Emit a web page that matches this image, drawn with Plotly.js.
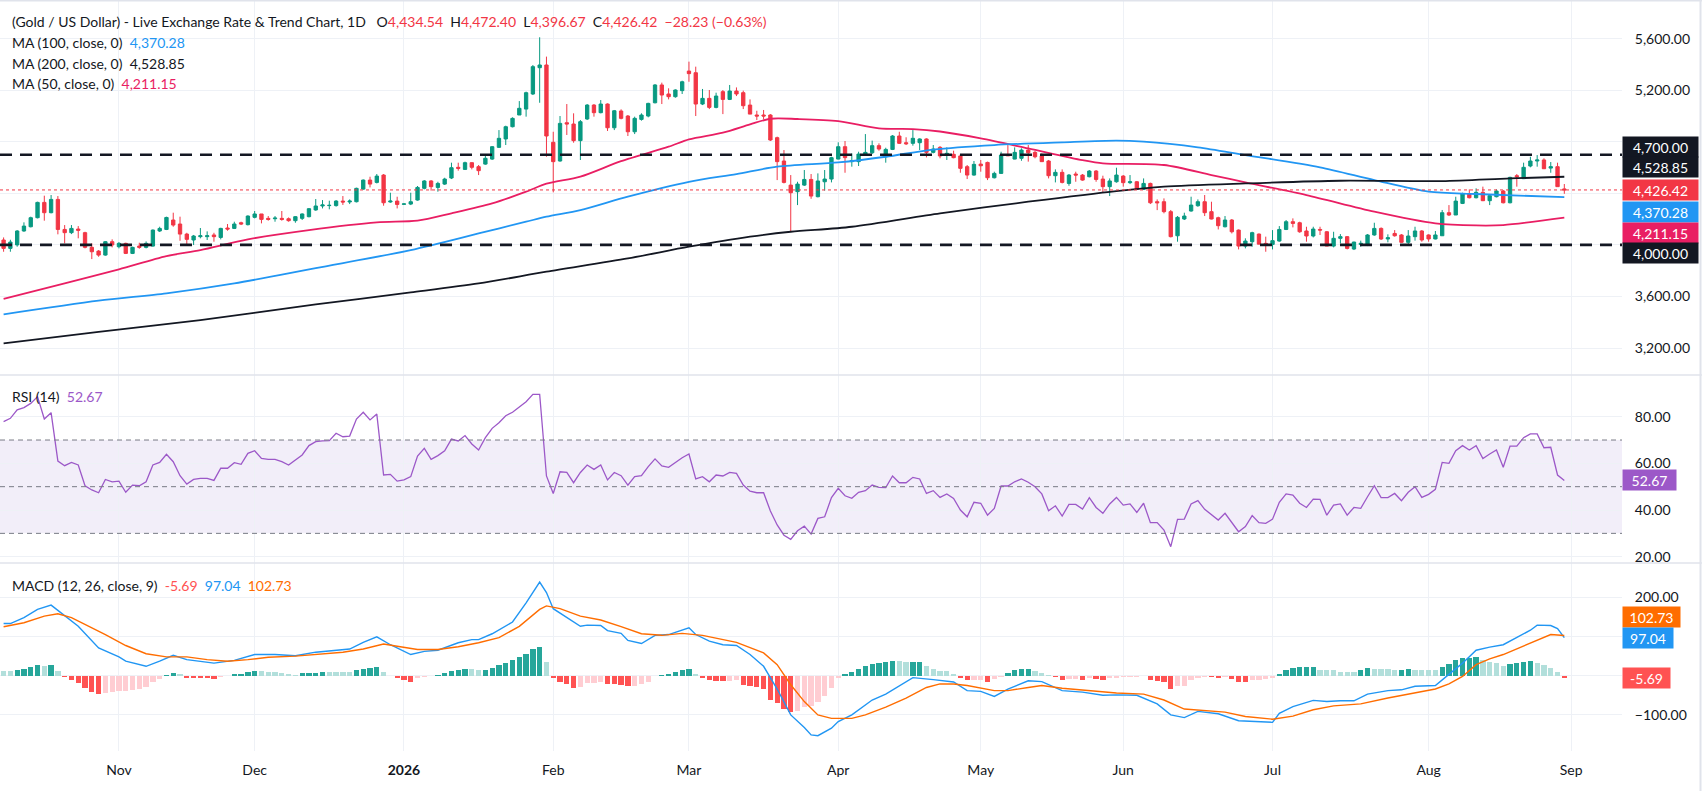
<!DOCTYPE html>
<html><head><meta charset="utf-8">
<script src="https://cdn.plot.ly/plotly-3.0.1.min.js"></script>
<style>html,body{margin:0;padding:0;background:#fff;}#chart{width:1702px;height:791px;}</style>
</head><body><div id="chart"></div>
<script>
// ---- Candles (daily bars, Oct 9 2025 .. Aug 31 2026), bar index 0..230 ----
const opens = [4038,3973,4000,4108,4141,4211,4330,4250,4353,4120,
4095,4123,4095,3981,3952,3921,4025,3986,4012,3934,
3991,3981,3991,4108,4120,4193,4162,4084,4038,4064,
4064,4077,4058,4131,4128,4172,4157,4214,4240,4206,
4203,4206,4203,4188,4206,4219,4271,4302,4305,4305,
4340,4333,4335,4433,4503,4485,4542,4333,4340,4315,
4317,4348,4439,4496,4446,4472,4519,4602,4586,4638,
4607,4627,4666,4757,4822,4917,5008,5054,5171,5375,
5396,4796,4651,4948,4938,4809,4977,5085,5026,5093,
4909,5039,5000,4878,4974,5000,5103,5241,5171,5150,
5197,5349,5336,5093,5137,5067,5189,5129,5194,5181,
5085,5008,5008,5008,4832,4651,4464,4413,4464,4508,
4374,4490,4511,4666,4762,4646,4646,4705,4715,4770,
4684,4741,4845,4793,4788,4793,4822,4718,4757,4705,
4703,4690,4607,4542,4627,4640,4521,4555,4700,4666,
4672,4736,4718,4690,4651,4537,4563,4477,4550,4542,
4529,4573,4511,4452,4490,4534,4483,4490,4431,4477,
4335,4335,4258,4071,4201,4263,4304,4335,4258,4211,
4141,4193,4115,3991,4025,4084,4012,4004,4030,4120,
4180,4172,4108,4069,4120,4102,3991,4051,4064,3968,
4004,4000,4077,4128,4046,4089,4077,4020,4064,4108,
4077,4046,4071,4250,4232,4322,4395,4366,4408,4343,
4374,4418,4327,4537,4514,4612,4651,4659,4596,4607,
4434.54];
const highs = [4058,4040,4115,4175,4219,4335,4382,4387,4379,4154,
4154,4146,4102,4012,3960,4030,4043,4022,4017,3986,
4017,4027,4120,4141,4219,4250,4219,4094,4077,4131,
4105,4094,4133,4162,4180,4180,4229,4263,4240,4224,
4224,4263,4213,4224,4245,4286,4356,4348,4343,4348,
4379,4353,4444,4508,4529,4550,4550,4405,4374,4322,
4405,4457,4503,4503,4490,4521,4638,4638,4646,4640,
4620,4690,4767,4891,4925,4990,5116,5189,5396,5611,
5461,4878,5000,5093,5021,4969,5093,5093,5124,5098,
5047,5052,5008,4995,5021,5103,5248,5259,5215,5207,
5274,5422,5383,5210,5202,5181,5202,5241,5222,5197,
5129,5041,5047,5015,4840,4736,4542,4490,4581,4550,
4555,4581,4684,4796,4806,4710,4723,4860,4809,4788,
4754,4852,4878,4835,4891,4827,4827,4775,4767,4757,
4731,4705,4620,4651,4659,4646,4568,4723,4775,4757,
4749,4775,4731,4710,4659,4586,4586,4550,4568,4550,
4581,4581,4537,4516,4599,4542,4542,4496,4516,4483,
4353,4361,4271,4224,4250,4374,4353,4387,4335,4219,
4224,4201,4120,4051,4102,4089,4064,4115,4146,4193,
4206,4180,4141,4141,4141,4108,4102,4084,4069,4025,
4033,4084,4172,4136,4082,4115,4084,4115,4141,4115,
4082,4108,4271,4309,4374,4405,4431,4439,4452,4387,
4431,4426,4529,4550,4638,4684,4697,4672,4643,4638,
4472.40];
const lows = [3947,3947,3986,4102,4136,4206,4188,4245,4082,4012,
4084,4051,3973,3890,3908,3916,3981,3973,3929,3929,
3970,3973,3986,4100,4115,4141,4032,4007,3999,4051,
4038,4025,4043,4110,4123,4154,4151,4206,4167,4188,
4180,4188,4180,4172,4193,4214,4265,4283,4276,4297,
4310,4317,4330,4428,4446,4477,4304,4327,4283,4312,
4309,4343,4431,4421,4413,4465,4511,4576,4581,4586,
4542,4622,4659,4752,4775,4912,5008,4995,5163,5103,
4684,4408,4646,4853,4793,4659,4969,4995,5021,4884,
4891,4974,4845,4860,4964,4990,5098,5093,5129,5142,
5171,5266,5000,5085,5054,5060,5015,5124,5155,5054,
5015,4969,4974,4806,4503,4477,4102,4309,4457,4358,
4369,4421,4485,4664,4560,4607,4612,4700,4705,4731,
4638,4736,4783,4775,4770,4736,4679,4710,4672,4659,
4672,4560,4511,4537,4568,4503,4516,4550,4690,4664,
4653,4646,4672,4646,4516,4485,4477,4459,4490,4498,
4524,4490,4405,4379,4483,4452,4472,4426,4426,4317,
4270,4245,4058,4025,4193,4258,4296,4224,4198,4120,
4136,4089,3965,3973,3986,4006,3947,3965,4025,4115,
4136,4094,4025,4058,4077,3991,3981,4012,3965,3960,
3986,3991,4071,4038,4020,4064,4017,4000,4033,4025,
4025,4043,4069,4224,4232,4317,4361,4361,4340,4309,
4369,4322,4322,4452,4511,4602,4607,4589,4560,4452,
4396.67];
const closes = [3973,4022,4108,4146,4211,4330,4250,4353,4120,4095,
4128,4113,3981,3947,3921,4025,4000,4012,3934,3981,
3981,4012,4115,4128,4213,4154,4084,4043,4069,4071,
4071,4064,4128,4123,4162,4162,4224,4240,4198,4198,
4208,4198,4188,4219,4240,4281,4302,4310,4307,4340,
4333,4340,4439,4503,4472,4534,4327,4340,4314,4318,
4335,4446,4496,4452,4477,4511,4599,4594,4638,4602,
4576,4672,4762,4827,4917,4982,5060,5181,5383,5396,
4845,4646,4943,4938,4809,4956,5085,5026,5093,4909,
5041,4982,4878,4982,5008,5098,5241,5163,5150,5202,
5266,5329,5093,5137,5067,5155,5129,5194,5171,5080,
5015,5000,5000,4814,4646,4485,4405,4472,4508,4379,
4496,4511,4677,4762,4677,4654,4705,4718,4770,4744,
4741,4845,4788,4785,4827,4822,4718,4744,4690,4710,
4677,4594,4542,4625,4614,4521,4555,4697,4692,4718,
4736,4715,4684,4646,4537,4563,4485,4542,4542,4503,
4573,4508,4452,4496,4542,4483,4490,4431,4477,4327,
4327,4258,4064,4214,4224,4309,4335,4250,4201,4149,
4193,4102,3991,4030,4095,4006,4004,4033,4120,4180,
4167,4102,4069,4123,4115,3991,4051,4064,3973,4022,
4012,4077,4128,4046,4056,4071,4020,4069,4108,4038,
4046,4077,4250,4232,4340,4395,4366,4408,4343,4382,
4418,4327,4524,4529,4602,4651,4659,4591,4607,4452,
4426.42];
const dayChange = -28.23, dayChangePct = -0.63;

// ---- Moving averages (read at sample bars) ----
const ma50Idx = [0,9,17,24,29,36,45,55,61,66,72,77,80,85,91,98,101,106,110,113,117,123,129,134,138,144,151,159,162,171,178,183,192,202,211,217,221,230];
const ma50Val = [3582,3701,3810,3913,3960,4043,4115,4175,4188,4245,4322,4413,4475,4530,4650,4762,4819,4871,4935,4979,4977,4961,4904,4899,4880,4827,4749,4658,4633,4620,4542,4485,4387,4258,4167,4151,4154,4211.15];
const ma100Idx = [0,14,24,34,46,60,70,77,80,85,92,101,108,114,123,130,137,146,156,164,168,176,183,194,202,210,217,230];
const ma100Val = [3461,3567,3624,3701,3820,3960,4089,4180,4219,4270,4375,4490,4550,4607,4640,4684,4740,4775,4796,4809,4801,4757,4697,4602,4503,4413,4395,4370.28];
const ma200Idx = [0,14,29,46,60,70,80,92,101,110,116,125,138,151,164,171,183,197,212,222,230];
const ma200Val = [3236,3326,3417,3538,3631,3701,3792,3895,3986,4064,4102,4141,4245,4335,4418,4452,4477,4498,4495,4516,4528.85];

// ---- RSI(14), one value per bar ----
const rsi = [77.9,79.3,82.9,83.9,85.7,88.6,79.0,81.7,61.0,59.0,
60.4,59.3,50.4,48.6,47.4,53.1,52.1,52.4,47.6,50.7,
50.4,52.1,59.3,60.4,63.9,60.7,54.7,51.1,53.1,53.6,
53.6,52.7,57.9,57.9,60.3,59.6,64.3,65.4,62.1,61.7,
61.7,60.7,59.3,61.4,63.6,67.6,69.3,69.6,69.7,72.9,
71.4,71.7,79.0,81.9,78.6,81.1,55.0,55.3,52.4,52.9,
54.3,63.1,66.4,61.7,63.3,65.4,70.4,69.6,71.9,68.3,
65.7,71.0,75.0,77.4,80.4,81.9,84.0,86.4,89.6,89.6,
54.6,47.1,56.4,56.1,51.7,56.1,59.3,57.4,59.3,52.9,
56.1,54.7,50.7,54.3,54.7,58.6,61.9,58.9,58.3,60.4,
62.4,64.0,53.3,54.3,52.1,55.0,54.6,56.1,55.7,50.7,
48.1,47.4,47.4,39.6,33.6,29.2,27.4,31.1,33.1,29.7,
36.4,37.1,45.3,49.3,46.1,45.0,47.6,48.3,50.7,49.7,
49.6,54.6,51.7,51.7,54.0,53.3,47.1,48.3,45.4,46.9,
45.0,40.0,37.1,43.3,42.9,37.8,40.7,50.3,50.3,52.1,
53.3,51.9,50.0,46.9,39.7,41.8,37.4,42.4,42.4,40.4,
45.3,41.1,38.6,42.6,45.4,42.1,42.6,39.0,42.9,34.6,
34.6,31.4,24.3,36.0,36.1,42.6,44.0,40.3,38.1,35.7,
38.6,34.7,30.7,32.9,37.6,34.6,34.3,36.1,43.3,46.9,
46.4,42.9,41.1,44.7,44.6,37.8,42.1,42.6,37.8,41.1,
40.7,45.7,50.4,45.3,45.3,47.1,44.0,47.6,50.0,45.4,
46.7,48.9,60.4,60.0,65.4,67.6,65.7,67.6,62.1,64.0,
65.7,58.3,67.4,67.4,71.0,72.6,72.6,66.7,66.9,55.0,
52.67];

// ---- MACD (12, 26, close, 9) ----
const macdIdx = [0,1,3,5,7,9,11,14,17,18,21,23,25,27,31,34,37,40,43,46,50,51,53,55,57,60,62,64,67,69,70,72,75,77,79,80,81,83,85,86,88,89,91,92,94,96,98,101,102,104,106,108,110,112,114,116,118,119,120,122,123,125,128,130,132,134,137,140,142,144,146,148,151,153,156,159,162,164,167,170,172,174,176,179,182,184,187,188,190,193,195,197,199,201,204,206,208,211,213,215,217,219,221,223,225,226,228,229,230];
const macdVal = [133,133,148,169,180,152,126,71,48,37,24,37,52,41,32,39,54,54,51,60,67,68,85,99,79,54,62,65,84,92,92,107,137,186,239,212,171,148,126,129,128,115,108,90,82,103,105,122,105,88,79,77,54,24,-34,-100,-132,-151,-153,-134,-117,-100,-62,-47,-26,-5,-10,-16,-38,-40,-53,-34,-13,-15,-38,-42,-50,-49,-50,-72,-100,-107,-91,-97,-115,-117,-119,-96,-79,-63,-66,-64,-64,-47,-38,-36,-27,-25,3,32,65,73,79,97,116,129,128,120,97.04];
const signalIdx = [0,3,6,8,10,12,15,18,21,24,27,30,33,36,39,43,46,50,53,56,58,61,64,67,70,73,76,78,79,80,82,85,88,91,94,97,100,103,106,108,112,114,116,118,120,122,125,127,130,133,136,138,140,142,146,148,151,153,156,160,164,168,171,174,177,180,183,187,190,193,196,200,204,208,211,213,215,217,219,221,223,226,228,230];
const signalVal = [125,135,152,158,148,131,105,77,56,48,48,41,37,41,47,50,54,60,68,81,75,67,67,74,84,97,126,156,169,178,171,152,142,125,107,103,108,103,92,85,58,28,-23,-66,-100,-109,-109,-100,-80,-57,-30,-21,-21,-25,-38,-38,-30,-25,-32,-38,-44,-47,-62,-85,-89,-93,-104,-111,-103,-87,-77,-72,-57,-44,-34,-21,-2,28,43,54,68,91,105,102.73];
const hist = [11,11,14,17,21,28,26,28,13,-3,
-10,-19,-32,-42,-46,-43,-41,-39,-38,-36,
-34,-29,-17,-9,3,7,4,-6,-6,-6,
-6,-8,-3,-2,4,5,9,13,11,9,
9,7,4,3,6,7,8,9,9,9,
9,9,15,18,20,21,9,-2,-6,-10,
-15,-6,-3,-2,3,7,13,15,17,17,
14,15,20,28,32,41,47,56,68,74,
35,-6,-15,-21,-32,-29,-19,-18,-17,-21,
-21,-23,-27,-26,-21,-15,-2,3,5,9,
14,17,4,-6,-12,-13,-14,-13,-12,-23,
-27,-30,-34,-62,-70,-85,-92,-90,-80,-78,
-66,-51,-32,-6,4,9,17,26,31,32,
34,37,37,34,35,36,24,18,11,11,
4,-6,-12,-11,-10,-16,-8,-3,7,14,
16,17,13,7,3,-3,-10,-9,-8,-10,
-6,-9,-10,-6,-5,-4,-3.5,-3,-2,-10,
-13,-17,-34,-27,-26,-10,-6,-3,-4,-6,
-3,-9,-16,-16,-12,-10,-8,-6,4,14,
20,21,22,23,14,14,14,9,9,9,
14,20,17,17,17,14,15,17,14,14,
14,14,22,30,41,44,45,47,41,35,
32,24,31,32,35,37,32,28,20,9,
-5.69];

// ---- Axis labels / levels ----
const monthTickIdx = [17,37,59,81,101,123,144,165,187,210,231];
const monthTickText = ['Nov','Dec','<b>2026</b>','Feb','Mar','Apr','May','Jun','Jul','Aug','Sep'];
const priceTicks = [3200,3600,4000,4400,4800,5200,5600];
const priceTicksCovered = [4000,4400,4800];
const rsiTicks = [20,40,60,80];
const macdTicks = [-100,0,100,200];
const macdTicksCovered = [0,100];
const levels = [4700, 4000];
const rsiBands = [70, 50, 30];

// ---------------------------------------------------------------
const C_UP='#089981', C_DN='#f23645', C_MA50='#e91e63', C_MA100='#2196f3', C_MA200='#131722';
const C_RSI='#9c58c8', C_MACD='#2196f3', C_SIG='#ff6d00', TXT='#131722', GRID='#eef1f6';
const FONT='Lato, "Noto Sans", sans-serif';
const idx = closes.map((_, i) => i);
const last = closes.length - 1;
const fmt = v => v.toLocaleString('en-US', {minimumFractionDigits: 2, maximumFractionDigits: 2});
const histColors = hist.map((h, i) => {
  const p = i > 0 ? hist[i-1] : h;
  if (h >= 0) return p < h ? '#26a69a' : '#b2dfdb';
  return p < h ? '#ffcdd2' : '#ff5252';
});

const traces = [
  {type:'candlestick', x:idx, open:opens, high:highs, low:lows, close:closes,
   increasing:{line:{color:C_UP, width:1}, fillcolor:C_UP},
   decreasing:{line:{color:C_DN, width:1}, fillcolor:C_DN},
   whiskerwidth:0, hoverinfo:'skip', xaxis:'x', yaxis:'y'},
  {type:'scatter', mode:'lines', x:ma50Idx, y:ma50Val, line:{color:C_MA50, width:1.8, shape:'spline', smoothing:0.8}, hoverinfo:'skip', xaxis:'x', yaxis:'y'},
  {type:'scatter', mode:'lines', x:ma100Idx, y:ma100Val, line:{color:C_MA100, width:1.8, shape:'spline', smoothing:0.8}, hoverinfo:'skip', xaxis:'x', yaxis:'y'},
  {type:'scatter', mode:'lines', x:ma200Idx, y:ma200Val, line:{color:C_MA200, width:1.8, shape:'spline', smoothing:0.8}, hoverinfo:'skip', xaxis:'x', yaxis:'y'},
  {type:'scatter', mode:'lines', x:idx, y:rsi, line:{color:C_RSI, width:1.3}, hoverinfo:'skip', xaxis:'x', yaxis:'y2'},
  {type:'bar', x:idx, y:hist, marker:{color:histColors, line:{width:0}}, width:0.78, hoverinfo:'skip', xaxis:'x', yaxis:'y3'},
  {type:'scatter', mode:'lines', x:macdIdx, y:macdVal, line:{color:C_MACD, width:1.4}, hoverinfo:'skip', xaxis:'x', yaxis:'y3'},
  {type:'scatter', mode:'lines', x:signalIdx, y:signalVal, line:{color:C_SIG, width:1.4}, hoverinfo:'skip', xaxis:'x', yaxis:'y3'}
];

const shapes = [];
levels.forEach(v => shapes.push({type:'line', xref:'paper', x0:0, x1:1, yref:'y', y0:v, y1:v, line:{color:'#131722', width:2.6, dash:'12px,8px'}}));
shapes.push({type:'line', xref:'paper', x0:0, x1:1, yref:'y', y0:closes[last], y1:closes[last], line:{color:C_DN, width:1, dash:'dot'}});
shapes.push({type:'rect', xref:'paper', x0:0, x1:1, yref:'y2', y0:rsiBands[2], y1:rsiBands[0], fillcolor:'rgba(126,87,194,0.1)', line:{width:0}, layer:'below'});
rsiBands.forEach(v => shapes.push({type:'line', xref:'paper', x0:0, x1:1, yref:'y2', y0:v, y1:v, line:{color:'#787b86', width:1, dash:'5px,4px'}}));
[0.50067, 0.25033].forEach(p => shapes.push({type:'line', xref:'paper', x0:0, x1:1.0493, yref:'paper', y0:p, y1:p, line:{color:'#e0e3eb', width:1.5}}));
// outer frame (top and right edges)
shapes.push({type:'line', xref:'paper', x0:0, x1:1.0493, yref:'paper', y0:0.9995, y1:0.9995, line:{color:'#e0e3eb', width:2}});
shapes.push({type:'line', xref:'paper', x0:1.0484, x1:1.0484, yref:'paper', y0:-0.0533, y1:1, line:{color:'#e0e3eb', width:2}});

function box(yref, val, text, bg, w, shift) {
  return {xref:'paper', x:1, xanchor:'left', yref:yref, y:val, yanchor:'middle', yshift:shift,
    text:text, showarrow:false, bgcolor:bg, font:{family:FONT, size:14, color:'#ffffff'},
    width:w, height:16, borderpad:2, align:'center'};
}
const red = s => '<span style="color:' + C_DN + '">' + s + '</span>';
const nb = '\u00a0';
const titleText = '(Gold / US Dollar) - Live Exchange Rate &amp; Trend Chart, 1D' + nb + nb + nb +
  'O' + red(fmt(opens[last])) + nb + nb + 'H' + red(fmt(highs[last])) + nb + nb + 'L' + red(fmt(lows[last])) + nb + nb +
  'C' + red(fmt(closes[last])) + nb + nb + red('\u2212' + fmt(Math.abs(dayChange)) + ' (\u2212' + fmt(Math.abs(dayChangePct)) + '%)');
function legendLine(py, html) {
  return {xref:'paper', x:0, xanchor:'left', xshift:10, yref:'paper', y:1 - py/751, yanchor:'middle',
    text:html, showarrow:false, font:{family:FONT, size:14, color:TXT}, align:'left'};
}
const col = (c, s) => '<span style="color:' + c + '">' + s + '</span>';
const annotations = [
  legendLine(21.5, titleText),
  legendLine(42.5, 'MA (100, close, 0)' + nb + nb + col(C_MA100, fmt(ma100Val[ma100Val.length-1]))),
  legendLine(63, 'MA (200, close, 0)' + nb + nb + col(C_MA200, fmt(ma200Val[ma200Val.length-1]))),
  legendLine(83.5, 'MA (50, close, 0)' + nb + nb + col(C_MA50, fmt(ma50Val[ma50Val.length-1]))),
  legendLine(396.5, 'RSI (14)' + nb + nb + col(C_RSI, fmt(rsi[last]))),
  legendLine(585, 'MACD (12, 26, close, 9)' + nb + nb + col('#ff5252', fmt(hist[last])) + nb + nb + col(C_MACD, fmt(macdVal[macdVal.length-1])) + nb + nb + col(C_SIG, fmt(signalVal[signalVal.length-1]))),
  box('y', levels[0], fmt(levels[0]), '#131722', 71, 7.7),
  box('y', ma200Val[ma200Val.length-1], fmt(ma200Val[ma200Val.length-1]), '#131722', 71, 9.3),
  box('y', closes[last], fmt(closes[last]), C_DN, 71, 0),
  box('y', ma100Val[ma100Val.length-1], fmt(ma100Val[ma100Val.length-1]), C_MA100, 71, -14.5),
  box('y', ma50Val[ma50Val.length-1], fmt(ma50Val[ma50Val.length-1]), C_MA50, 71, -15),
  box('y', levels[1], fmt(levels[1]), '#131722', 71, -8),
  box('y2', rsi[last], fmt(rsi[last]), C_RSI, 49, 0),
  box('y3', signalVal[signalVal.length-1], fmt(signalVal[signalVal.length-1]), C_SIG, 53, 18.7),
  box('y3', macdVal[macdVal.length-1], fmt(macdVal[macdVal.length-1]), C_MACD, 46, 0),
  box('y3', hist[last], fmt(hist[last]), '#ff5252', 43, 0)
];

const tickTexts = (vals, covered) => vals.map(v => covered.includes(v) ? '' : fmt(v).replace('-', '\u2212'));
const yCommon = {side:'right', showgrid:true, gridcolor:GRID, zeroline:false, showline:false, tickmode:'array',
  ticks:'outside', ticklen:9, tickcolor:'rgba(0,0,0,0)', tickfont:{family:FONT, size:14, color:TXT}, anchor:'x', fixedrange:true};
const layout = {
  width:1702, height:791, margin:{l:0, r:80, t:0, b:40},
  paper_bgcolor:'#ffffff', plot_bgcolor:'#ffffff', showlegend:false, bargap:0,
  font:{family:FONT, color:TXT},
  xaxis:{range:[-0.53, 238.5], tickmode:'array', tickvals:monthTickIdx, ticktext:monthTickText, showgrid:true, gridcolor:GRID,
    zeroline:false, showline:false, ticks:'outside', ticklen:6, tickcolor:'rgba(0,0,0,0)',
    tickfont:{family:FONT, size:14, color:TXT}, anchor:'y3', rangeslider:{visible:false}, fixedrange:true},
  yaxis:Object.assign({}, yCommon, {domain:[0.50067, 1], range:[2990.6, 5900.3], tickvals:priceTicks, ticktext:tickTexts(priceTicks, priceTicksCovered)}),
  yaxis2:Object.assign({}, yCommon, {domain:[0.25033, 0.50067], range:[17.3, 97.86], tickvals:rsiTicks, ticktext:tickTexts(rsiTicks, [])}),
  yaxis3:Object.assign({}, yCommon, {domain:[0, 0.25033], range:[-192.1, 287.5], tickvals:macdTicks, ticktext:tickTexts(macdTicks, macdTicksCovered)}),
  shapes:shapes, annotations:annotations
};
Plotly.newPlot('chart', traces, layout, {displayModeBar:false, staticPlot:true});
</script>
</body></html>
